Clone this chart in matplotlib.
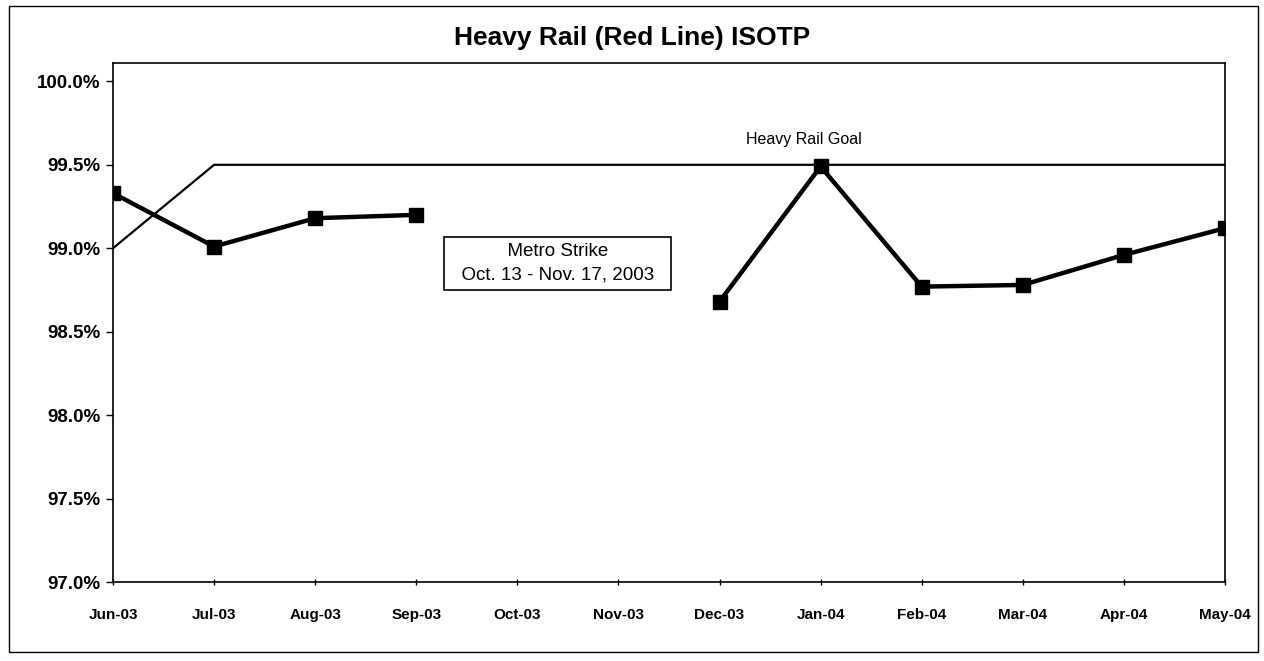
import numpy as np
import matplotlib.pyplot as plt
from matplotlib.patches import Rectangle
from matplotlib.ticker import FuncFormatter

plt.rcParams['font.family'] = ['Liberation Sans', 'DejaVu Sans']

months = ['Jun-03', 'Jul-03', 'Aug-03', 'Sep-03', 'Oct-03', 'Nov-03',
          'Dec-03', 'Jan-04', 'Feb-04', 'Mar-04', 'Apr-04', 'May-04']
# ISOTP in percent, Oct/Nov missing (strike)
isotp = [99.33, 99.01, 99.18, 99.20, np.nan, np.nan,
         98.68, 99.49, 98.77, 98.78, 98.96, 99.12]
goal = [99.0, 99.5, 99.5, 99.5, 99.5, 99.5,
        99.5, 99.5, 99.5, 99.5, 99.5, 99.5]
yticks = [97.0, 97.5, 98.0, 98.5, 99.0, 99.5, 100.0]

fig = plt.figure(figsize=(12.64, 6.61), dpi=100)
ax = fig.add_axes([0.0894, 0.1195, 0.8797, 0.7852])

x = np.arange(len(months))
ax.plot(x, goal, color='black', lw=1.6, zorder=2)
ax.plot(x, isotp, color='black', lw=3.2, marker='s', ms=10,
        markerfacecolor='black', zorder=3)

ax.set_xlim(0, len(months) - 1)
ax.set_ylim(97.0, 100.11)
ax.set_xticks(x)
ax.set_xticklabels(months, fontsize=11, fontweight='bold')
ax.set_yticks(yticks)
ax.yaxis.set_major_formatter(FuncFormatter(lambda v, p: '%.1f%%' % v))
for lab in ax.get_yticklabels():
    lab.set_fontsize(13.5)
    lab.set_fontweight('bold')
ax.tick_params(axis='y', direction='out', length=5, width=1, pad=4)
ax.tick_params(axis='x', direction='inout', length=5, width=1, pad=16)
for s in ax.spines.values():
    s.set_linewidth(1.2)
    s.set_color('black')

# title centred on the whole chart, not the plot area
fig.text(0.5, 0.942, 'Heavy Rail (Red Line) ISOTP', fontsize=19,
         fontweight='bold', ha='center', va='center')

ax.text(6.83, 99.65, 'Heavy Rail Goal', fontsize=11.5, ha='center',
        va='center')
ax.text(4.40, 98.91, '  Metro Strike  \n  Oct. 13 - Nov. 17, 2003  ',
        fontsize=13.5, ha='center', va='center', linespacing=1.45,
        bbox=dict(boxstyle='square,pad=0.35', facecolor='white',
                  edgecolor='black', lw=1.2))

# outer chart border
fig.patches.append(Rectangle((0.007, 0.013), 0.988, 0.978,
                             transform=fig.transFigure, fill=False,
                             edgecolor='black', lw=1.0))

fig.savefig('out.png', dpi=100)
